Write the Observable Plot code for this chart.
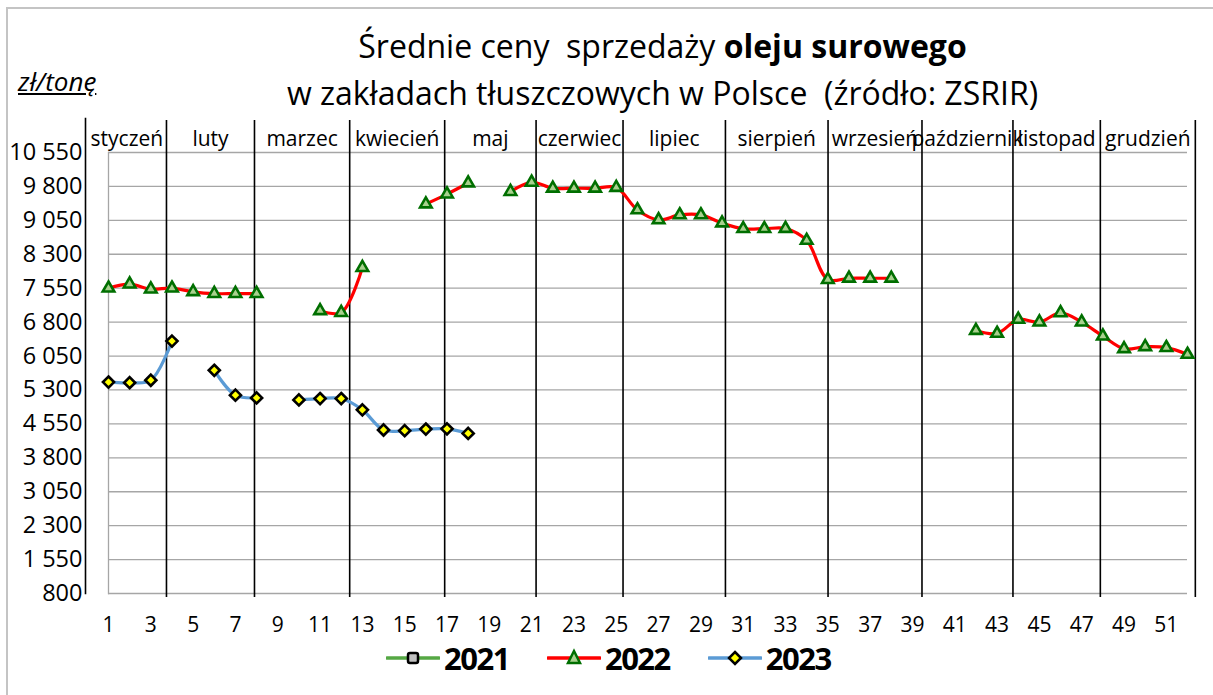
<!DOCTYPE html>
<html>
<head>
<meta charset="utf-8">
<script src="https://cdn.jsdelivr.net/npm/d3@7"></script>
<script src="https://cdn.jsdelivr.net/npm/@observablehq/plot@0.6"></script>
<style>
  body { margin: 0; background: #fff; font-family: "Open Sans", sans-serif; }
  #wrap { position: relative; width: 1213px; height: 695px; overflow: hidden; background: #fff; }
  #border { position: absolute; left: 6px; top: 7px; width: 1220px; height: 700px; border-left: 2px solid #c4c4c4; border-top: 2px solid #c4c4c4; box-sizing: border-box; }
  #chart { position: absolute; left: 0; top: 0; }
  .title { position: absolute; left: 56px; width: 1213px; text-align: center; font-size: 32px; color: #000; white-space: pre; line-height: 1; }
  #unit { position: absolute; left: 18px; top: 66px; font-size: 26px; font-style: italic; text-decoration: underline; color: #000; line-height: 1.2; }
  #legend { position: absolute; top: 637px; left: 386px; display: flex; align-items: center; }
  .item { display: flex; align-items: center; margin-right: 38px; }
  .item span { font-weight: bold; font-size: 31px; letter-spacing: -1.5px; margin-left: 4px; color: #000; }
</style>
</head>
<body>
<div id="wrap">
  <div id="border"></div>
  <div id="chart"></div>
  <div class="title" style="top:30px">Średnie ceny  sprzedaży <b>oleju surowego</b></div>
  <div class="title" style="top:77px">w zakładach tłuszczowych w Polsce  (źródło: ZSRIR)</div>
  <div id="unit">zł/tonę</div>
  <div id="legend"></div>
</div>
<script>
// ---- data ----
const weeks = [1,2,3,4,5,6,7,8,9,10,11,12,13,14,15,16,17,18,19,20,21,22,23,24,25,26,
               27,28,29,30,31,32,33,34,35,36,37,38,39,40,41,42,43,44,45,46,47,48,49,50,51,52];
const series = ["2021", "2022", "2023"];
const values2021 = [];
const values2022 = [7550,7640,7530,7550,7470,7430,7430,7430,null,null,7050,7010,8005,null,null,9410,
                    9630,9875,null,9685,9890,9760,9760,9760,9775,9280,9060,9170,9170,8990,8865,8865,
                    8870,8605,7740,7770,7770,7770,null,null,null,6615,6550,6860,6800,7005,6800,6490,
                    6210,6255,6235,6085];
const values2023 = [5475,5460,5515,6380,null,5735,5185,5125,null,5080,5110,5110,4860,4415,4400,4435,
                    4440,4340];
const months = ["styczeń","luty","marzec","kwiecień","maj","czerwiec","lipiec","sierpień",
                "wrzesień","październik","listopad","grudzień"];
const monthBounds = [0, 3.74, 7.90, 12.40, 16.89, 21.21, 25.32, 30.16, 35.01, 39.45, 43.75, 47.88, 52.37];
const yTicks = [800,1550,2300,3050,3800,4550,5300,6050,6800,7550,8300,9050,9800,10550];
const xTicks = [1,3,5,7,9,11,13,15,17,19,21,23,25,27,29,31,33,35,37,39,41,43,45,47,49,51];

// ---- tables ----
const rows2022 = weeks.map((w, i) => ({week: w, v: values2022[i] ?? null}));
const rows2023 = weeks.map((w, i) => ({week: w, v: values2023[i] ?? null}));
const monthRows = months.map((m, i) => ({name: m, x: (monthBounds[i] + monthBounds[i + 1]) / 2}));
const fmt = d3.formatLocale({thousands: " ", grouping: [3], decimal: ","}).format(",");

const c2021 = "#55a844", c2022 = "#ff0000", c2023 = "#5b9bd5";
const triFill = "#a9d18e", triStroke = "#006f00";

const chart = Plot.plot({
  width: 1213,
  height: 695,
  marginLeft: 108,
  marginRight: 26,
  marginTop: 152,
  marginBottom: 102,
  style: {fontFamily: "Open Sans, sans-serif", color: "#000", background: "transparent", overflow: "visible"},
  x: {domain: [1, 52]},
  y: {domain: [800, 10550]},
  marks: [
    Plot.ruleY(yTicks, {stroke: "#a6a6a6", strokeWidth: 1.3}),
    Plot.frame({anchor: "left", stroke: "#a6a6a6", strokeWidth: 1.3}),
    Plot.frame({anchor: "left", dx: -23, insetTop: -34, stroke: "#000", strokeWidth: 1.6}),
    Plot.ruleX(monthBounds.slice(1), {stroke: "#000", strokeWidth: 1.6, insetTop: -32, insetBottom: -4}),
    Plot.text(monthRows, {x: "x", text: "name", frameAnchor: "top", dy: -21, fontSize: 21, fill: "#000"}),
    Plot.axisY({ticks: yTicks, tickSize: 0, tickPadding: 26, tickFormat: fmt, fontSize: 23.5, label: null}),
    Plot.axisX({ticks: xTicks, tickSize: 0, tickPadding: 24, fontSize: 21, label: null}),
    Plot.line(rows2022, {x: "week", y: "v", stroke: c2022, strokeWidth: 3.2, curve: "catmull-rom"}),
    Plot.dot(rows2022.filter(d => d.v != null), {x: "week", y: "v", symbol: "triangle", r: 4.3, fill: triFill, stroke: triStroke, strokeWidth: 2.6}),
    Plot.line(rows2023, {x: "week", y: "v", stroke: c2023, strokeWidth: 3.2, curve: "catmull-rom"}),
    Plot.dot(rows2023.filter(d => d.v != null), {x: "week", y: "v", symbol: "diamond2", r: 5, fill: "#ffff00", stroke: "#000", strokeWidth: 2.6})
  ]
});
document.getElementById("chart").appendChild(chart);

// ---- legend ----
const markers = {
  "2021": {line: c2021, m: `<rect x="22" y="6" width="10" height="10" rx="2" fill="#c0c0c0" stroke="#000" stroke-width="2.5"/>`},
  "2022": {line: c2022, m: `<path d="M27,4 L33,16 L21,16 Z" fill="${triFill}" stroke="${triStroke}" stroke-width="2.5" stroke-linejoin="miter"/>`},
  "2023": {line: c2023, m: `<path d="M27,5 L33,11 L27,17 L21,11 Z" fill="#ffff00" stroke="#000" stroke-width="2.5"/>`}
};
const legend = document.getElementById("legend");
series.forEach(s => {
  const el = document.createElement("div");
  el.className = "item";
  el.innerHTML = `<svg width="54" height="22"><line x1="1" x2="53" y1="11" y2="11" stroke="${markers[s].line}" stroke-width="3.5" stroke-linecap="round"/>${markers[s].m}</svg><span>${s}</span>`;
  legend.appendChild(el);
});
</script>
</body>
</html>
